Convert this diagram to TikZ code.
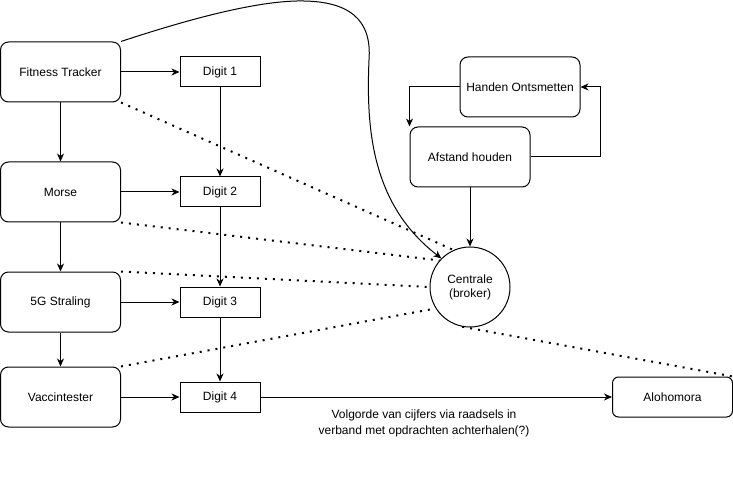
\documentclass[tikz,border=0pt]{standalone}
\usepackage{fontspec}
\setmainfont{Liberation Sans}
\usetikzlibrary{arrows.meta}
\begin{document}
\begin{tikzpicture}[x=1pt,y=1pt,
  font=\fontsize{12}{14}\selectfont,
  rbox/.style={draw, line width=1pt, rounded corners=8pt, minimum width=120pt, minimum height=60pt, inner sep=0pt, align=center},
  dbox/.style={draw, line width=1pt, minimum width=80pt, minimum height=30pt, inner sep=0pt},
  cbox/.style={draw, circle, line width=1pt, minimum size=80pt, inner sep=0pt, align=center},
  arr/.style={draw, line width=1pt, -{Stealth[length=8pt,width=7pt,inset=2.5pt]}},
  dots/.style={draw, line width=2pt, dash pattern=on 2pt off 6pt},
]
\useasboundingbox (0,0) rectangle (733,-478);
% left column
\node[rbox] (ft) at (60.5,-72) {Fitness Tracker};
\node[rbox] (mo) at (60.5,-192) {Morse};
\node[rbox] (fg) at (60.5,-302) {5G Straling};
\node[rbox] (va) at (60.5,-397) {Vaccintester};
% digits
\node[dbox] (d1) at (220,-72) {Digit 1};
\node[dbox] (d2) at (220,-192) {Digit 2};
\node[dbox] (d3) at (220,-302) {Digit 3};
\node[dbox] (d4) at (220,-397) {Digit 4};
% right side
\node[rbox] (ho) at (520,-87) {Handen Ontsmetten};
\node[rbox] (af) at (470,-157) {Afstand houden};
\node[cbox] (ce) at (470,-287) {Centrale\\(broker)};
\node[rbox, minimum height=40pt, rounded corners=6pt] (al) at (672.5,-397) {Alohomora};
\node[align=center, font=\fontsize{12}{16}\selectfont] (lbl) at (424,-423) {Volgorde van cijfers via raadsels in\\verband met opdrachten achterhalen(?)};
% solid arrows
\draw[arr] (ft) -- (d1);
\draw[arr] (mo) -- (d2);
\draw[arr] (fg) -- (d3);
\draw[arr] (va) -- (d4);
\draw[arr] (ft) -- (mo);
\draw[arr] (mo) -- (fg);
\draw[arr] (fg) -- (va);
\draw[arr] (d1) -- (d2);
\draw[arr] (d2) -- (d3);
\draw[arr] (d3) -- (d4);
\draw[arr] (d4) -- (al);
\draw[arr] (ho.west) -| (af.north west);
\draw[arr] (af.east) -- ++(70,0) |- (ho.east);
\draw[arr] (af) -- (ce);
% curve
\draw[arr] (ft.north east) .. controls (180,-22) and (250,-2) .. (297,-1)
  .. controls (350,0) and (372,-20) .. (369,-60)
  .. controls (366,-130) and (372,-205) .. (ce.135);
% dotted
\draw[dots] (ft.south east) -- (ce.114);
\draw[dots] (mo.south east) -- (ce.139);
\draw[dots] (fg.north east) -- (ce.180);
\draw[dots] (va.north east) -- (ce.212);
\draw[dots] (ce.259) -- (al.north east);
\end{tikzpicture}
\end{document}
